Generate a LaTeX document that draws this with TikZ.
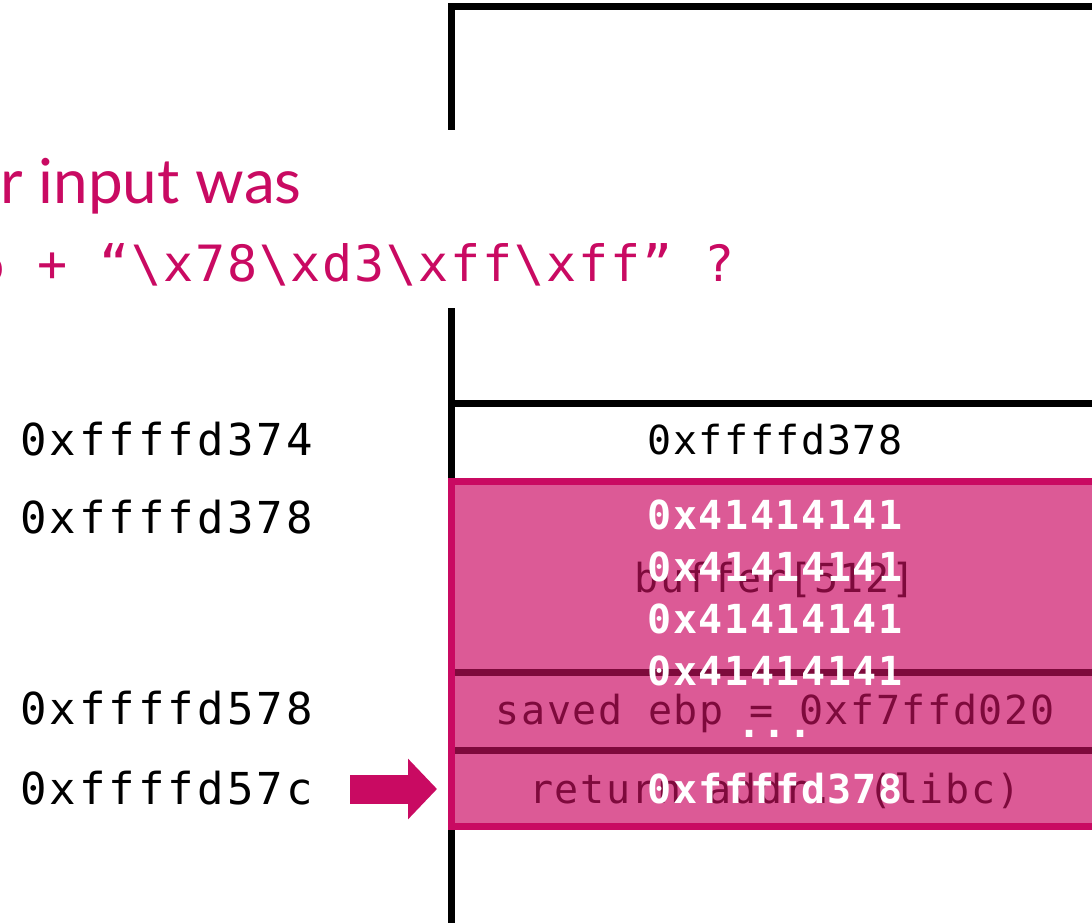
\documentclass[tikz,border=0pt]{standalone}
\usepackage{fontspec}
\usetikzlibrary{arrows.meta}
\setmainfont{Lato}
\newfontfamily\cellfont[LetterSpace=4]{DejaVu Sans Mono}
\newfontfamily\addrfont[LetterSpace=7]{DejaVu Sans Mono}
\newfontfamily\codefont[LetterSpace=3.7]{DejaVu Sans Mono}
\definecolor{accent}{HTML}{C90A62}
\definecolor{pinkfill}{HTML}{DC5A96}
\definecolor{maroon}{HTML}{7E0A3C}
\tikzset{
  frame/.style={line width=7pt, black},
  addr/.style={font=\addrfont\fontsize{44}{52}\selectfont, anchor=base west, inner sep=0pt},
  celltext/.style={font=\cellfont\fontsize{40}{48}\selectfont, anchor=base, inner sep=0pt},
  oldtext/.style={celltext, text=maroon},
  newtext/.style={celltext, text=white, font=\cellfont\bfseries\fontsize{40}{48}\selectfont},
  question/.style={text=accent, inner sep=0pt, anchor=base west},
  bigarrow/.style={accent, line width=29pt, -{Triangle[length=29pt,width=59pt]}},
}
\begin{document}
\begin{tikzpicture}[x=1pt,y=-1pt]
\useasboundingbox (0,0) rectangle (1092,923);

% stack frame outline
\draw[frame, line join=miter] (451,130) -- (451,7) -- (1100,7);
\draw[frame] (451,308) -- (451,930);
\draw[frame] (451,403) -- (1100,403);

% overwritten region
\fill[pinkfill] (451,481) rectangle (1100,826);
\draw[line width=7pt, maroon] (454,672) -- (1100,672);
\draw[line width=7pt, maroon] (454,750) -- (1100,750);
\draw[line width=7pt, accent, line join=miter] (1100,481) -- (451,481) -- (451,826) -- (1100,826);
\coordinate (retrow) at (451,789);

% question text
\node[question, font=\fontsize{62}{68}\selectfont] (q1) at (0,203) {r input was};
\node[question, font=\codefont\fontsize{50}{56}\selectfont] (q2) at (-25,281)
  {6 + “\textbackslash x78\textbackslash xd3\textbackslash xff\textbackslash xff” ?};

% addresses
\node[addr] (a1) at (20,455) {0xffffd374};
\node[addr] (a2) at (20,533) {0xffffd378};
\node[addr] (a3) at (20,724) {0xffffd578};
\node[addr] (a4) at (20,804) {0xffffd57c};

% cell contents
\node[celltext] (c0) at (775,454) {0xffffd378};
\node[oldtext] (buf) at (775,592) {buffer[512]};
\node[oldtext] (ebp) at (775,724) {saved ebp = 0xf7ffd020};
\node[oldtext] (ret) at (775,803) {return addr. (libc)};

% injected bytes
\node[newtext] (w1) at (775,529) {0x41414141};
\node[newtext] (w2) at (775,581) {0x41414141};
\node[newtext] (w3) at (775,633) {0x41414141};
\node[newtext] (w4) at (775,685) {0x41414141};
\node[newtext] (dots) at (775,737) {...};
\node[newtext] (w5) at (775,803) {0xffffd378};

% pointer to the return address slot
\coordinate (tail) at (350,789);
\draw[bigarrow] (tail) -- ([xshift=-14pt]retrow);
\end{tikzpicture}
\end{document}
